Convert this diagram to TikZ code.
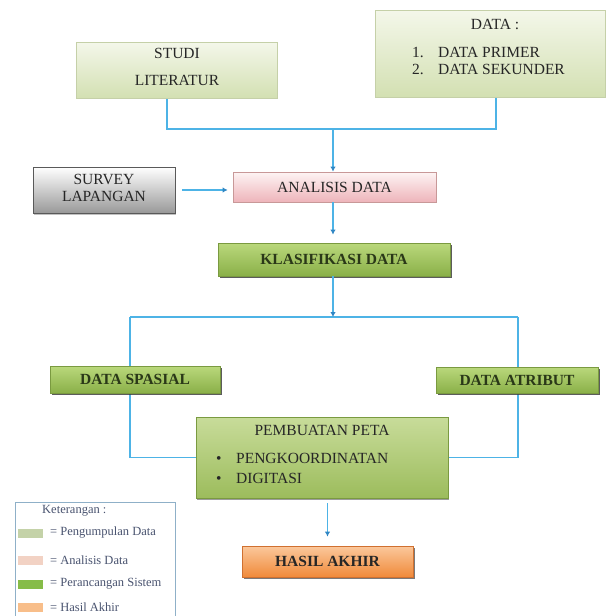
\documentclass[tikz,border=0pt]{standalone}
\usepackage{fontspec}
\setmainfont{Liberation Serif}
\usetikzlibrary{arrows.meta,shadows,backgrounds,calc}
\definecolor{linec}{HTML}{4DB3E6}
\definecolor{arrc}{HTML}{2F86C4}
\definecolor{lgtop}{HTML}{F4F7EA}
\definecolor{lgbot}{HTML}{D3E0B2}
\definecolor{lgbd}{HTML}{C5D0A8}
\definecolor{grtop}{HTML}{BAD87C}
\definecolor{grbot}{HTML}{8AB048}
\definecolor{grbd}{HTML}{7A9A40}
\definecolor{pmtop}{HTML}{C8DC9A}
\definecolor{pmbot}{HTML}{9CBC5C}
\definecolor{ortop}{HTML}{FBC89C}
\definecolor{orbot}{HTML}{F08A3A}
\definecolor{orbd}{HTML}{D07030}
\definecolor{pktop}{HTML}{FDF4F4}
\definecolor{pkbot}{HTML}{EEB4BA}
\definecolor{pkbd}{HTML}{C89898}
\definecolor{txtc}{HTML}{262626}
\definecolor{gtxt}{HTML}{2A3818}
\definecolor{legc}{HTML}{8FB0C8}
\definecolor{legt}{HTML}{4A5470}
\definecolor{sw1}{HTML}{C4D2A8}
\definecolor{sw2}{HTML}{F2D2C4}
\definecolor{sw3}{HTML}{86BC48}
\definecolor{sw4}{HTML}{F8BE8A}
\begin{document}
\begin{tikzpicture}[x=1pt,y=-1pt,
  basebox/.style={draw, line width=0.8pt, inner sep=0pt},
  lgbox/.style={basebox, draw=lgbd, top color=lgtop, bottom color=lgbot},
  grbox/.style={basebox, draw=grbd, top color=grtop, bottom color=grbot,
     drop shadow={shadow xshift=1.5pt, shadow yshift=-2pt, fill=black!75, opacity=0.85},
     font=\fontsize{15.5}{18}\selectfont\bfseries, text=gtxt},
  pmbox/.style={basebox, draw=grbd, top color=pmtop, bottom color=pmbot,
     drop shadow={shadow xshift=1pt, shadow yshift=-1.5pt, fill=black!55, opacity=0.7}},
  orbox/.style={basebox, draw=orbd, top color=ortop, bottom color=orbot,
     drop shadow={shadow xshift=1.5pt, shadow yshift=-2pt, fill=black!65, opacity=0.8},
     font=\fontsize{15.5}{18}\selectfont\bfseries, text=txtc},
  pkbox/.style={basebox, draw=pkbd, top color=pktop, bottom color=pkbot,
     font=\fontsize{15.5}{18}\selectfont, text=txtc},
  gybox/.style={basebox, draw=black!65, top color=white, bottom color=black!40,
     drop shadow={shadow xshift=1pt, shadow yshift=-1.5pt, fill=black!40, opacity=0.6}},
  txt/.style={inner sep=0pt, font=\fontsize{15.5}{18}\selectfont, text=txtc},
  conn/.style={draw=linec, line width=1.7pt},
  arr/.style={-{Latex[length=5pt,width=5.5pt,color=arrc]}},
  legtxt/.style={inner sep=0pt, anchor=west, font=\fontsize{12.5}{14}\selectfont, text=legt},
  swatch/.style={inner sep=0pt, minimum width=25pt, minimum height=9pt, anchor=west}
]
\useasboundingbox (0,0) rectangle (606,616);

% top boxes
\node[lgbox, minimum width=201pt, minimum height=56pt] (studi) at (176.5,70) {};
\node[txt] (studiA) at (177,53) {STUDI};
\node[txt] (studiB) at (177,80) {LITERATUR};

\node[lgbox, minimum width=230pt, minimum height=87pt] (data) at (490,53.5) {};
\node[txt] (dataT) at (495,24) {DATA :};
\node[txt, anchor=west] (d1) at (412,52) {\makebox[26pt][l]{1.}DATA PRIMER};
\node[txt, anchor=west] (d2) at (412,69) {\makebox[26pt][l]{2.}DATA SEKUNDER};

% survey and analisis
\node[gybox, minimum width=142pt, minimum height=46pt] (survey) at (104,190) {};
\node[txt] (surveyA) at (104,179) {SURVEY};
\node[txt] (surveyB) at (104,196) {LAPANGAN};

\node[pkbox, minimum width=203pt, minimum height=30pt] (analisis) at (334.5,187) {ANALISIS DATA};

\node[grbox, minimum width=232pt, minimum height=33pt] (klas) at (334,259.5) {KLASIFIKASI DATA};

\node[grbox, minimum width=170pt, minimum height=27pt] (spasial) at (135,379.5) {DATA SPASIAL};
\node[grbox, minimum width=162pt, minimum height=26pt] (atribut) at (517,380) {DATA ATRIBUT};

\node[pmbox, minimum width=252pt, minimum height=81pt] (pemb) at (322,457.5) {};
\node[txt] (pembT) at (322,430) {PEMBUATAN PETA};
\node[txt, anchor=west] (p1) at (216,458) {\makebox[20pt][l]{\textbullet}PENGKOORDINATAN};
\node[txt, anchor=west] (p2) at (216,478) {\makebox[20pt][l]{\textbullet}DIGITASI};

\node[orbox, minimum width=171pt, minimum height=31pt] (hasil) at (327.5,561.5) {HASIL AKHIR};

% legend
\node[draw=legc, line width=1pt, fill=white, anchor=north west, inner sep=0pt,
      minimum width=160pt, minimum height=125pt] (leg) at (15,502) {};
\node[legtxt] (legT) at (42,511) {Keterangan :};
\node[swatch, fill=sw1] (s1) at (18,533) {};
\node[legtxt] (l1) at (50,533) {= Pengumpulan Data};
\node[swatch, fill=sw2] (s2) at (18,560) {};
\node[legtxt] (l2) at (50,560) {= Analisis Data};
\node[swatch, fill=sw3] (s3) at (18,584) {};
\node[legtxt] (l3) at (50,584) {= Perancangan Sistem};
\node[swatch, fill=sw4] (s4) at (18,607) {};
\node[legtxt] (l4) at (50,607) {= Hasil Akhir};

% junction coordinates
\coordinate (jt) at (333,129);
\coordinate (jm) at (333,317);
\coordinate (jl) at (130,317);
\coordinate (jr) at (518,317);

\begin{scope}[on background layer]
  \fill[white] (0,0) rectangle (606,616);
  \draw[conn] ([xshift=-9.5pt]studi.south) |- (jt) -| ([xshift=6pt]data.south);
  \draw[conn] (jl) -- (jr);
  \draw[conn] (jl) |- (pemb.west);
  \draw[conn] (jr) |- (pemb.east);
\end{scope}
\draw[conn, arr] (jt) -- (analisis.north -| jt);
\draw[conn, arr, shorten <=7pt, shorten >=5pt] (survey.east) -- (survey.east -| analisis.west);
\draw[conn, arr, shorten >=8pt] (analisis.south -| jt) -- (klas.north -| jt);
\draw[conn, arr] (klas.south -| jt) -- (jm);
\draw[conn, arr, shorten <=5pt, shorten >=9pt] (hasil.north |- pemb.south) -- (hasil.north);
\end{tikzpicture}
\end{document}
